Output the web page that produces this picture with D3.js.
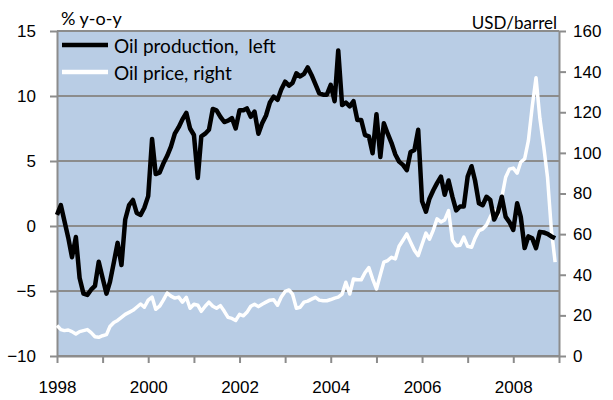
<!DOCTYPE html>
<html>
<head>
<meta charset="utf-8">
<script src="https://cdn.jsdelivr.net/npm/d3@7"></script>
<style>
  body { margin: 0; background: #fff; }
  svg { display: block; font-family: Lato, "Open Sans", sans-serif; }
</style>
</head>
<body>
<svg id="chart" width="613" height="400"></svg>
<script>
// monthly data, Jan 1998 .. Dec 2008
const startYear = 1998;
const production = [
  0.85, 1.6, 0.4, -0.9, -2.4, -0.85, -4.0, -5.2, -5.3, -4.9, -4.6, -2.75,
  -4.0, -5.2, -4.3, -2.8, -1.3, -3.0, 0.5, 1.6, 2.0, 1.0, 0.85, 1.4,
  2.3, 6.7, 4.0, 4.1, 4.8, 5.4, 6.1, 7.1, 7.6, 8.2, 8.7, 7.5,
  7.0, 3.7, 6.9, 7.1, 7.4, 9.0, 8.9, 8.4, 8.0, 8.1, 8.3, 7.5,
  8.9, 8.9, 9.05, 8.4, 8.8, 7.1, 7.9, 8.5, 9.5, 9.95, 9.7, 10.5,
  11.1, 10.8, 11.0, 11.75, 11.5, 11.7, 12.2, 11.6, 10.9, 10.2, 10.1, 10.1,
  10.85, 9.6, 13.5, 9.3, 9.5, 9.2, 9.6, 8.15, 8.15, 7.0, 6.9, 5.6,
  8.6, 5.3, 7.9, 7.1, 6.4, 5.5, 4.95, 4.7, 4.3, 5.7, 5.85, 7.4,
  1.9, 1.1, 2.1, 2.75, 3.3, 3.8, 2.4, 3.5, 2.25, 1.2, 1.5, 1.5,
  3.8, 4.6, 3.5, 1.75, 1.6, 2.25, 2.0, 0.5, 1.1, 2.25, 0.7, 0.3,
  -0.3, 1.75, 0.7, -1.7, -0.8, -0.95, -1.7, -0.45, -0.5, -0.6, -0.8, -0.95
];
const price = [
  15.0, 13.0, 12.5, 12.8, 12.0, 10.8, 12.0, 12.5, 13.0, 11.5, 9.5, 9.2,
  10.0, 10.5, 14.5, 16.5, 17.5, 19.0, 20.5, 21.5, 22.5, 24.0, 25.6, 24.0,
  27.5, 29.0, 23.0, 24.5, 27.5, 31.0, 29.5, 28.5, 29.0, 26.5, 28.9, 23.5,
  25.5, 25.0, 22.0, 24.5, 26.5, 24.5, 23.5, 24.8, 22.0, 19.0, 18.5, 17.5,
  20.5, 19.8, 21.5, 24.5, 25.5, 24.3, 25.5, 26.5, 27.5, 27.7, 25.0, 29.0,
  31.8, 32.5, 30.5, 23.5, 24.0, 26.5, 27.0, 28.0, 28.9, 27.5, 27.2, 27.2,
  27.8, 28.5, 29.0, 30.5, 36.3, 30.5, 37.9, 37.5, 37.5, 41.0, 43.5, 38.0,
  33.0, 40.0, 46.2, 47.0, 48.6, 47.8, 54.0, 57.0, 60.1, 56.0, 52.0, 49.4,
  55.0, 60.5, 57.5, 62.0, 67.5, 66.0, 67.0, 71.6, 57.0, 54.3, 54.5, 58.5,
  54.0, 53.5, 58.0, 61.7, 62.5, 64.5, 68.5, 72.0, 69.0, 78.0, 88.0, 92.0,
  92.5, 90.0, 95.5, 97.0, 106.0, 123.0, 137.0, 117.0, 103.0, 88.0, 62.0, 46.2
];
const leftTicks = [-10, -5, 0, 5, 10, 15];
const rightTicks = [0, 20, 40, 60, 80, 100, 120, 140, 160];
const seriesNames = ["Oil production,  left", "Oil price, right"];
const seriesColors = ["#000000", "#ffffff"];

const svg = d3.select("#chart");
const margin = { top: 31, right: 54, bottom: 44, left: 57 };
const width = 613 - margin.left - margin.right;
const height = 400 - margin.top - margin.bottom;

const dates = production.map((_, i) => new Date(Date.UTC(startYear, i, 1)));

const x = d3.scaleUtc()
  .domain([new Date(Date.UTC(startYear, 0, 1)), new Date(Date.UTC(startYear + 11, 0, 1))])
  .range([0, width]);
const yL = d3.scaleLinear().domain([-10, 15]).range([height, 0]);
const yR = d3.scaleLinear().domain([0, 160]).range([height, 0]);

const g = svg.append("g").attr("transform", `translate(${margin.left},${margin.top})`);

// plot background
g.append("rect")
  .attr("width", width)
  .attr("height", height)
  .attr("fill", "#b9cde5");

// gridlines
g.append("g")
  .selectAll("line")
  .data(leftTicks)
  .join("line")
  .attr("x1", 0)
  .attr("x2", width)
  .attr("y1", (d) => yL(d))
  .attr("y2", (d) => yL(d))
  .attr("stroke", "#8c8c8c")
  .attr("stroke-width", 2);

function styleAxis(sel) {
  sel.select(".domain").attr("stroke", "#8c8c8c").attr("stroke-width", 2);
  sel.selectAll(".tick line").attr("stroke", "#8c8c8c").attr("stroke-width", 2);
  sel.selectAll(".tick text").attr("fill", "#000").style("font-size", "17px");
}

g.append("g")
  .call(d3.axisLeft(yL).tickValues(leftTicks).tickSize(7).tickPadding(14).tickSizeOuter(0))
  .call(styleAxis);

g.append("g")
  .attr("transform", `translate(${width},0)`)
  .call(d3.axisRight(yR).tickValues(rightTicks).tickSize(7).tickPadding(7).tickSizeOuter(0))
  .call(styleAxis);

g.append("g")
  .attr("transform", `translate(0,${height})`)
  .call(
    d3.axisBottom(x)
      .ticks(d3.utcYear.every(1))
      .tickSize(7)
      .tickPadding(18)
      .tickSizeOuter(0)
      .tickFormat((d) => (d.getUTCFullYear() % 2 === 0 ? d.getUTCFullYear() : ""))
  )
  .call(styleAxis);

// series
const lineL = d3.line().x((d, i) => x(dates[i])).y((d) => yL(d));
const lineR = d3.line().x((d, i) => x(dates[i])).y((d) => yR(d));

g.append("path")
  .attr("d", lineR(price))
  .attr("fill", "none")
  .attr("stroke", seriesColors[1])
  .attr("stroke-width", 3.5)
  .attr("stroke-linejoin", "round");

g.append("path")
  .attr("d", lineL(production))
  .attr("fill", "none")
  .attr("stroke", seriesColors[0])
  .attr("stroke-width", 4.5)
  .attr("stroke-linejoin", "round");

// axis titles
svg.append("text")
  .attr("x", 61)
  .attr("y", 25)
  .style("font-size", "18px")
  .text("% y-o-y");
svg.append("text")
  .attr("x", 557)
  .attr("y", 29)
  .attr("text-anchor", "end")
  .style("font-size", "17px")
  .text("USD/barrel");

// legend
const legend = svg.append("g").attr("transform", "translate(62,45)");
seriesNames.forEach((name, i) => {
  const row = legend.append("g").attr("transform", `translate(0,${i * 27})`);
  row.append("line")
    .attr("x1", 0)
    .attr("x2", 46)
    .attr("stroke", seriesColors[i])
    .attr("stroke-width", 4.5);
  row.append("text")
    .attr("x", 52)
    .attr("y", 8)
    .style("font-size", "19px")
    .style("white-space", "pre")
    .text(name);
});
</script>
</body>
</html>
